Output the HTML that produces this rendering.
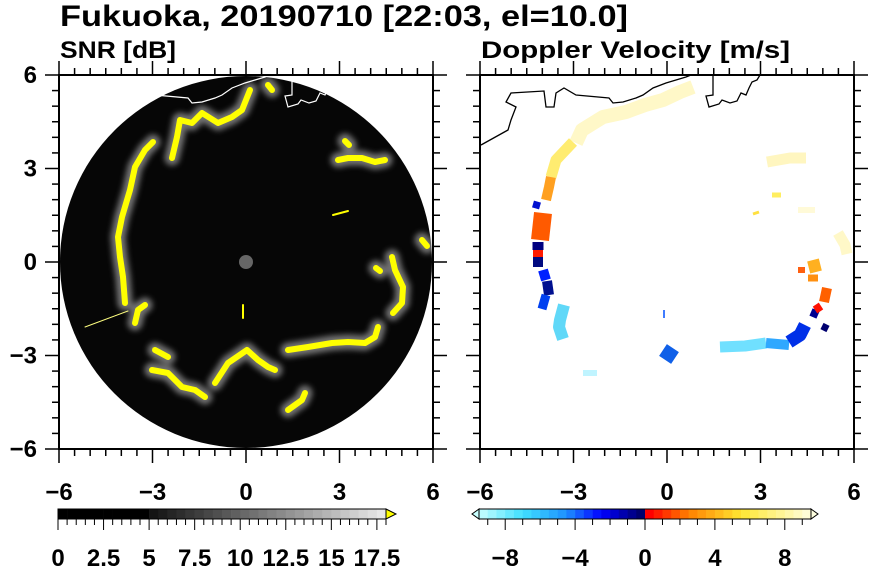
<!DOCTYPE html>
<html><head><meta charset="utf-8"><style>
html,body{margin:0;padding:0;background:#fff;}
svg{display:block;font-family:"Liberation Sans",sans-serif;font-weight:bold;}
</style></head><body>
<svg id="s" width="870" height="570" viewBox="0 0 870 570" xmlns="http://www.w3.org/2000/svg">
<defs>
<clipPath id="cl"><rect x="59" y="75" width="374" height="374"/></clipPath>
<clipPath id="cr"><rect x="480" y="75" width="374" height="374"/></clipPath>
<filter id="bl" x="-20%" y="-20%" width="140%" height="140%"><feGaussianBlur stdDeviation="3"/></filter>
<g id="coast" fill="none">
<polyline points="60,145 87,130 90,120 95,107 85,102 90,93 123,91 125,107 133,107 135,93 143,88 155,95 188,98 192,103 202,102 215,98 222,95 232,88 245,83 255,80 265,77 270,75"/>
<polyline points="292,75 292,95 285,96 288,107 298,104 301,100 309,103 316,101 320,93 325,95 328,88 331,82 336,80 339,75"/>
</g>
</defs>
<text x="60" y="26" font-size="30" textLength="568" lengthAdjust="spacingAndGlyphs">Fukuoka, 20190710 [22:03, el=10.0]</text>
<text x="60" y="58" font-size="24" textLength="116" lengthAdjust="spacingAndGlyphs">SNR [dB]</text>
<text x="481" y="58" font-size="24" textLength="309" lengthAdjust="spacingAndGlyphs">Doppler Velocity [m/s]</text>

<!-- left panel -->
<g clip-path="url(#cl)">
<circle cx="246" cy="262" r="186" fill="#060606"/>
<circle cx="246" cy="262" r="7" fill="#666"/>
<g fill="none" stroke-linecap="round" stroke-linejoin="round">
<g stroke="#bbb" stroke-width="15" opacity="0.6" filter="url(#bl)" id="lf">
<polyline points="153,142 145,150 135,167 130,190 122,217 118,237 120,257 123,277 125,303"/>
<polyline points="172,158 177,137 180,120 192,123 202,113 218,123 232,117 242,110 250,90"/>
<polyline points="268,85 272,90"/>
<polyline points="338,160 348,158 362,158 375,162 385,160"/>
<polyline points="345,141 349,145"/>
<polyline points="392,257 395,270 403,287 402,303 393,313"/>
<polyline points="422,240 427,246"/><polyline points="376,268 380,271"/>
<polyline points="288,350 308,347 332,343 348,342 365,343 375,337 378,327"/>
<polyline points="215,383 228,363 247,350 258,360 268,367 275,370"/>
<polyline points="135,323 138,310 145,305"/>
<polyline points="155,350 168,357"/>
<polyline points="152,370 168,373 182,387 195,390 205,397"/>
<polyline points="288,410 302,400 305,393"/>
</g>
<g stroke="#ffff00" stroke-width="6">
<polyline points="153,142 145,150 135,167 130,190 122,217 118,237 120,257 123,277 125,303"/>
<polyline points="172,158 177,137 180,120 192,123 202,113 218,123 232,117 242,110 250,90"/>
<polyline points="268,85 272,90"/>
<polyline points="338,160 348,158 362,158 375,162 385,160"/>
<polyline points="345,141 349,145"/>
<polyline points="392,257 395,270 403,287 402,303 393,313"/>
<polyline points="422,240 427,246"/><polyline points="376,268 380,271"/>
<polyline points="288,350 308,347 332,343 348,342 365,343 375,337 378,327"/>
<polyline points="215,383 228,363 247,350 258,360 268,367 275,370"/>
<polyline points="135,323 138,310 145,305"/>
<polyline points="155,350 168,357"/>
<polyline points="152,370 168,373 182,387 195,390 205,397"/>
<polyline points="288,410 302,400 305,393"/>
</g>
<line x1="85" y1="327" x2="128" y2="311" stroke="#ffff80" stroke-width="1"/>
<line x1="243" y1="305" x2="243" y2="318" stroke="#ffff00" stroke-width="2"/>
<line x1="333" y1="215" x2="348" y2="211" stroke="#ffff00" stroke-width="2"/>
</g>
<use href="#coast" stroke="#fff" stroke-width="1.2"/>
</g>

<!-- right panel -->
<g clip-path="url(#cr)">
<g fill="none" stroke-linecap="butt" stroke-linejoin="round">
<polyline points="576,143 582,130 603,117 626,112 645,105 663,100 680,92 693,87" stroke="#fff8c8" stroke-width="14"/>
<polyline points="573,142 556,160 551,177" stroke="#ffec70" stroke-width="11"/>
<polyline points="551,177 549,187 546,200" stroke="#ffa020" stroke-width="10"/>
<polyline points="543,213 540,240" stroke="#ff5a00" stroke-width="18"/>
<polyline points="538,242 538,250" stroke="#000080" stroke-width="11"/>
<polyline points="538,250 538,257" stroke="#ff1a00" stroke-width="10"/>
<polyline points="538,257 538,267" stroke="#000a80" stroke-width="10"/>
<polyline points="543,270 546,280" stroke="#0020ff" stroke-width="10"/>
<polyline points="547,281 549,295" stroke="#001090" stroke-width="10"/>
<polyline points="546,295 542,309" stroke="#0040f0" stroke-width="9"/>
<polyline points="533,204 540,206" stroke="#0010d0" stroke-width="7"/>
<polyline points="564,305 560,320 559,327 563,339" stroke="#60d8f8" stroke-width="12"/>
<polyline points="663,350 675,358" stroke="#1060e8" stroke-width="14"/>
<polyline points="583,373 597,373" stroke="#c0f4ff" stroke-width="6"/>
<polyline points="720,347 745,346 766,343" stroke="#70e0ff" stroke-width="11"/>
<polyline points="766,343 789,345" stroke="#30a8ff" stroke-width="10"/>
<polyline points="789,342 800,335 805,325" stroke="#0030e8" stroke-width="13"/>
<polyline points="811,312 818,315" stroke="#000090" stroke-width="8"/>
<polyline points="815,310 821,306" stroke="#ff1000" stroke-width="8"/>
<polyline points="824,302 827,288" stroke="#ff6000" stroke-width="10"/>
<polyline points="813,260 816,272" stroke="#ffb020" stroke-width="12"/>
<polyline points="798,270 805,270" stroke="#ff6010" stroke-width="6"/>
<polyline points="808,278 818,278" stroke="#ff9010" stroke-width="7"/>
<polyline points="822,326 828,329" stroke="#000070" stroke-width="7"/>
<polyline points="767,162 790,158 806,158" stroke="#fff6c0" stroke-width="11"/>
<polyline points="798,210 815,210" stroke="#fffad8" stroke-width="6"/>
<polyline points="838,233 845,245 847,254" stroke="#fff8c8" stroke-width="11"/>
<polyline points="772,195 781,195" stroke="#ffee60" stroke-width="5"/>
<polyline points="753,214 759,212" stroke="#ffe040" stroke-width="3"/>
<line x1="664" y1="310" x2="664" y2="318" stroke="#0050ff" stroke-width="1.5"/>
</g>
<use href="#coast" transform="translate(421,0)" stroke="#000" stroke-width="1.3"/>
</g>
<g id="ax" stroke="#000" fill="none"></g>
<g id="tx" font-size="24" text-anchor="middle"></g>
</svg>
<script>
var NS="http://www.w3.org/2000/svg",ax=document.getElementById('ax'),tx=document.getElementById('tx');
function L(x1,y1,x2,y2,w){var l=document.createElementNS(NS,'line');l.setAttribute('x1',x1);l.setAttribute('y1',y1);l.setAttribute('x2',x2);l.setAttribute('y2',y2);l.setAttribute('stroke-width',w||1.5);ax.appendChild(l);}
function T(x,y,s,a){var t=document.createElementNS(NS,'text');t.setAttribute('x',x);t.setAttribute('y',y);if(a)t.setAttribute('text-anchor',a);t.textContent=s;tx.appendChild(t);}
function R(x,y,w,h,f,st){var r=document.createElementNS(NS,'rect');r.setAttribute('x',x);r.setAttribute('y',y);r.setAttribute('width',w);r.setAttribute('height',h);r.setAttribute('fill',f);if(st){r.setAttribute('stroke',st);}else r.setAttribute('stroke','none');ax.appendChild(r);}
var s=374/12;
[59,480].forEach(function(x0){
 R(x0,75,374,374,'none','#000');ax.lastChild.setAttribute('stroke-width',2);
 for(var i=0;i<=24;i++){var u=x0+i*s/2,m=i%6==0,ln=m?14:7;
  L(u,75,u,75-ln);L(u,449,u,449+ln);
  var v=75+i*s/2;L(x0,v,x0-ln,v);L(x0+374,v,x0+374+ln,v);
 }
 [-6,-3,0,3,6].forEach(function(k,i){T(x0+i*3*s,500,(k<0?'\u2212':'')+Math.abs(k));});
});
[6,3,0,-3,-6].forEach(function(k,i){T(37,83+i*3*s,(k<0?'\u2212':'')+Math.abs(k),'end');});
var cx0=58,cw=328,n=36,bw=cw/n;
for(var i=0;i<n;i++){var val=i*0.5,g=val<5?0:Math.round(20+(val-5)/13*220);R(cx0+i*bw,509,bw+0.3,10,'rgb('+g+','+g+','+g+')');}
var p=document.createElementNS(NS,'polygon');p.setAttribute('points','386,509 396,514 386,519');p.setAttribute('fill','#ffff00');p.setAttribute('stroke','#000');ax.appendChild(p);
R(cx0,509,cw,10,'none','#000');
for(var i=0;i<=n;i++){var x=cx0+i*bw;L(x,519,x,i%5==0?530:525,1);}
['0','2.5','5','7.5','10','12.5','15','17.5'].forEach(function(t,i){T(cx0+i*5*bw,566,t);});
var r0=479,rw=332,m=38,rb=rw/m;
var stops=[[-9.5,[200,255,255]],[-7,[64,224,255]],[-4.5,[30,144,255]],[-2.5,[0,0,255]],[-0.25,[0,0,110]],[0.25,[255,0,0]],[2.5,[255,128,0]],[5.5,[255,230,50]],[9.5,[255,255,225]]];
function col(v){for(var k=0;k<stops.length-1;k++){var a=stops[k],b=stops[k+1];if(v<=b[0]){var t=Math.max(0,(v-a[0])/(b[0]-a[0]));return 'rgb('+[0,1,2].map(function(j){return Math.round(a[1][j]+(b[1][j]-a[1][j])*t);}).join(',')+')';}}return 'rgb(255,255,225)';}
for(var i=0;i<m;i++){var v=-9.5+i*0.5+0.25;R(r0+i*rb,509,rb+0.3,10,col(v));}
var p1=document.createElementNS(NS,'polygon');p1.setAttribute('points','479,509 472,514 479,519');p1.setAttribute('fill','#c8ffff');p1.setAttribute('stroke','#000');ax.appendChild(p1);
var p2=document.createElementNS(NS,'polygon');p2.setAttribute('points','811,509 818,514 811,519');p2.setAttribute('fill','#ffffe0');p2.setAttribute('stroke','#000');ax.appendChild(p2);
R(r0,509,rw,10,'none','#000');
for(var k=-9;k<=9;k++){var x=r0+(k+9.5)*rw/19;L(x,519,x,k%4==0?530:525,1);}
[-8,-4,0,4,8].forEach(function(k){T(r0+(k+9.5)*rw/19,566,(k<0?'\u2212':'')+Math.abs(k));});
</script>
</body></html>
